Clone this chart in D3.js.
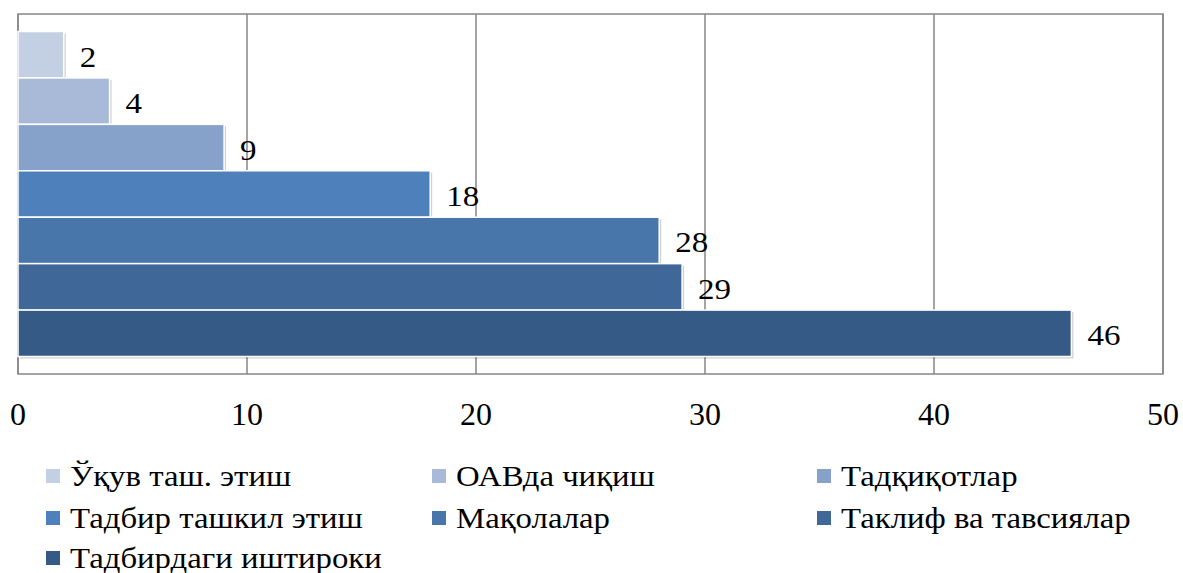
<!DOCTYPE html>
<html>
<head>
<meta charset="utf-8">
<script src="https://cdn.jsdelivr.net/npm/d3@7"></script>
</head>
<body style="margin:0">
<script>
// data
var categories = ["Ўқув таш. этиш", "ОАВда чиқиш", "Тадқиқотлар", "Тадбир ташкил этиш",
                  "Мақолалар", "Таклиф ва тавсиялар", "Тадбирдаги иштироки"];
var values = [2, 4, 9, 18, 28, 29, 46];
var xTicks = [0, 10, 20, 30, 40, 50];
var colors = ["#c3cfe2", "#a8bad8", "#86a1ca", "#4e80bc", "#4876ab", "#3f6899", "#365a86"];

var W = 1183, H = 573;
var plotL = 18, plotR = 1163, plotT = 14, plotB = 374;
var serifFont = "'Liberation Serif', 'Times New Roman', Tinos, serif";

var svg = d3.select("body").append("svg")
  .attr("width", W).attr("height", H)
  .style("font-family", serifFont);

var x = d3.scaleLinear().domain([0, 50]).range([plotL, plotR]);
var y = d3.scaleBand().domain(d3.range(values.length))
  .range([plotT + 17.5, plotB - 17.5]).paddingInner(0);

// gridlines
svg.selectAll("line.grid")
  .data(xTicks)
  .enter().append("line")
  .attr("class", "grid")
  .attr("x1", d => x(d)).attr("x2", d => x(d))
  .attr("y1", plotT).attr("y2", plotB)
  .attr("stroke", "#868686").attr("stroke-width", 1.5);

// plot border
svg.append("rect")
  .attr("x", plotL).attr("y", plotT)
  .attr("width", plotR - plotL).attr("height", plotB - plotT)
  .attr("fill", "none").attr("stroke", "#868686").attr("stroke-width", 1.5);

// bar shadows (soft, offset)
svg.selectAll("rect.shadow")
  .data(values)
  .enter().append("rect")
  .attr("class", "shadow")
  .attr("x", x(0) + 2)
  .attr("y", (d, i) => y(i) + 2)
  .attr("width", d => x(d) - x(0))
  .attr("height", y.bandwidth())
  .attr("fill", "#000").attr("opacity", 0.18);

// bars
svg.selectAll("rect.bar")
  .data(values)
  .enter().append("rect")
  .attr("class", "bar")
  .attr("x", x(0))
  .attr("y", (d, i) => y(i))
  .attr("width", d => x(d) - x(0))
  .attr("height", y.bandwidth())
  .attr("fill", (d, i) => colors[i])
  .attr("stroke", "#fff").attr("stroke-width", 1.5);

// value labels (slightly widened like the original)
svg.selectAll("text.val")
  .data(values)
  .enter().append("text")
  .attr("class", "val")
  .attr("transform", (d, i) => "translate(" + (x(d) + 16) + "," + (y(i) + y.bandwidth() / 2 + 12) + ") scale(1.1,1)")
  .style("font-family", serifFont)
  .style("font-size", "30px")
  .text(d => d);

// x axis labels
svg.selectAll("text.tick")
  .data(xTicks)
  .enter().append("text")
  .attr("class", "tick")
  .attr("x", d => x(d))
  .attr("y", 425)
  .attr("text-anchor", "middle")
  .style("font-family", serifFont)
  .style("font-size", "32px")
  .text(d => d);

// legend
var legCols = [46, 432, 817];
var legRows = [476, 518, 558];
svg.selectAll("rect.key")
  .data(categories)
  .enter().append("rect")
  .attr("class", "key")
  .attr("x", (d, i) => legCols[i % 3])
  .attr("y", (d, i) => legRows[Math.floor(i / 3)] - 7)
  .attr("width", 14).attr("height", 14)
  .attr("fill", (d, i) => colors[i]);
svg.selectAll("text.key")
  .data(categories)
  .enter().append("text")
  .attr("class", "key")
  .attr("transform", (d, i) => "translate(" + (legCols[i % 3] + 24) + "," + (legRows[Math.floor(i / 3)] + 10) + ") scale(1.15,1)")
  .style("font-family", serifFont)
  .style("font-size", "28.5px")
  .text(d => d);
</script>
</body>
</html>
